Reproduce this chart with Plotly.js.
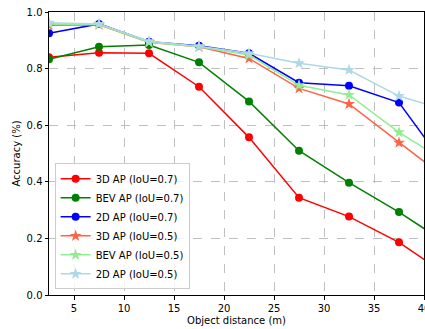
<!DOCTYPE html>
<html><head><meta charset="utf-8">
<script src="https://cdn.plot.ly/plotly-3.0.1.min.js"></script>
<style>html,body{margin:0;padding:0;background:#fff}#c{width:425px;height:329px}</style>
</head><body><div id="c"></div>
<script>
const distances = [2.5, 7.5, 12.5, 17.5, 22.5, 27.5, 32.5, 37.5, 42.5];
const ap3d_07  = [0.840, 0.856, 0.854, 0.736, 0.557, 0.344, 0.277, 0.186, 0.066];
const bev_07   = [0.833, 0.877, 0.883, 0.822, 0.684, 0.510, 0.397, 0.293, 0.177];
const ap2d_07  = [0.925, 0.958, 0.895, 0.881, 0.854, 0.750, 0.739, 0.680, 0.438];
const ap3d_05  = [0.953, 0.955, 0.893, 0.877, 0.836, 0.730, 0.675, 0.538, 0.404];
const bev_05   = [0.958, 0.956, 0.893, 0.877, 0.848, 0.741, 0.707, 0.575, 0.465];
const ap2d_05  = [0.962, 0.958, 0.897, 0.879, 0.854, 0.819, 0.795, 0.703, 0.651];
const names = ["3D AP (IoU=0.7)","BEV AP (IoU=0.7)","2D AP (IoU=0.7)","3D AP (IoU=0.5)","BEV AP (IoU=0.5)","2D AP (IoU=0.5)"];
const series = [ap3d_07, bev_07, ap2d_07, ap3d_05, bev_05, ap2d_05];
const colors = ["red","green","blue","tomato","lightgreen","lightblue"];
const symbols = ["circle","circle","circle","star","star","star"];
const sizes = [8,8,8,9,9,9];

const traces = series.map((ys,i)=>({
  x: distances, y: ys, name: names[i], type:"scatter", mode:"lines+markers",
  line:{color:colors[i], width:1.5},
  marker:{color:colors[i], symbol:symbols[i], size:sizes[i]},
  cliponaxis:true
}));

const font = {family:"DejaVu Sans, sans-serif", size:10, color:"#000"};
const layout = {
  width:425, height:329,
  margin:{l:49, r:1, t:12, b:34},
  paper_bgcolor:"#fff", plot_bgcolor:"#fff",
  font: font,
  showlegend:true,
  legend:{x:0.015, y:0.02, xanchor:"left", yanchor:"bottom",
    bgcolor:"rgba(255,255,255,0.8)", bordercolor:"#cccccc", borderwidth:1,
    font:{family:"DejaVu Sans, sans-serif", size:10, color:"#000"}, tracegroupgap:0, itemwidth:30},
  xaxis:{range:[2.5,40], tickvals:[5,10,15,20,25,30,35,40], ticktext:["5","10","15","20","25","30","35","40"],
    ticklabeloverflow:"allow",
    showline:true, linecolor:"#000", linewidth:1, mirror:true,
    ticks:"outside", ticklen:3.5, tickcolor:"#000",
    showgrid:true, gridcolor:"#b0b0b0", griddash:"dash", gridwidth:0.8, zeroline:false,
    title:{text:"Object distance (m)", font:font, standoff:4}},
  yaxis:{range:[0,1], tickvals:[0,0.2,0.4,0.6,0.8,1.0], ticktext:["0.0","0.2","0.4","0.6","0.8","1.0"],
    showline:true, linecolor:"#000", linewidth:1, mirror:true,
    ticks:"outside", ticklen:3.5, tickcolor:"#000",
    showgrid:true, gridcolor:"#b0b0b0", griddash:"dash", gridwidth:0.8, zeroline:false,
    title:{text:"Accuracy (%)", font:font, standoff:4}}
};
Plotly.newPlot("c", traces, layout, {displayModeBar:false, staticPlot:true});
</script></body></html>
